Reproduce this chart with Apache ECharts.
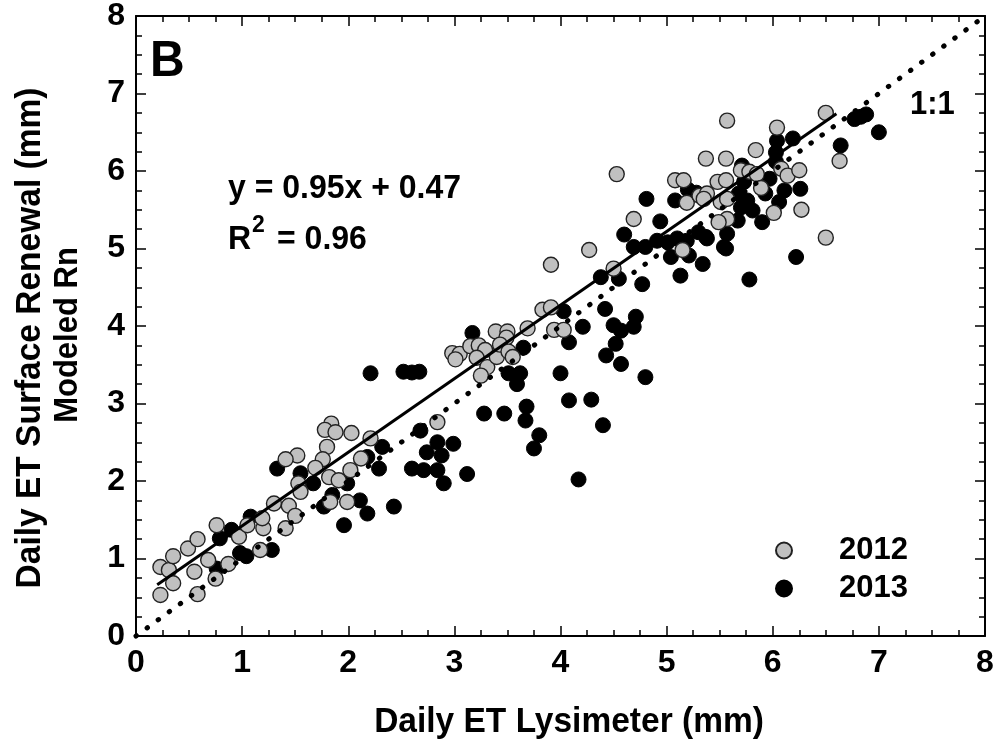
<!DOCTYPE html>
<html><head><meta charset="utf-8">
<script src="https://cdn.jsdelivr.net/npm/echarts@6/dist/echarts.min.js"></script>
<style>html,body{margin:0;padding:0;background:#fff}#chart{width:999px;height:746px}</style>
</head><body><div id="chart"></div>
<script>
// ---- data ----
const xTickValues = [0, 1, 2, 3, 4, 5, 6, 7, 8];
const yTickValues = [0, 1, 2, 3, 4, 5, 6, 7, 8];
const seriesNames = ['2012', '2013'];
// [Lysimeter ET, Surface Renewal ET] (mm)
const et2012 = [
  [0.23,0.89],[0.31,0.85],[0.23,0.53],[0.35,1.03],[0.35,0.68],[0.49,1.13],[0.58,1.25],[0.55,0.83],[0.58,0.54],
  [0.68,0.98],[0.75,0.74],[0.76,1.43],[0.87,0.93],[0.97,1.28],[1.05,1.43],[1.17,1.11],[1.20,1.39],[1.19,1.52],[1.30,1.71],
  [1.84,2.74],[1.78,2.66],[1.88,2.63],[2.03,2.62],[2.21,2.55],[1.80,2.44],[1.76,2.28],[1.52,2.33],[1.41,2.28],[1.69,2.17],
  [1.82,2.05],[1.91,2.01],[2.02,2.14],[2.12,2.29],[1.53,1.97],[1.55,1.86],[1.83,1.73],[1.99,1.73],[1.44,1.68],[1.50,1.55],[1.41,1.39],
  [2.84,2.76],[3.91,4.79],[3.83,4.21],[3.91,4.24],[3.94,3.95],[4.03,3.95],[3.69,3.97],[3.39,3.93],[3.50,3.93],[3.49,3.85],
  [2.98,3.65],[3.05,3.64],[3.01,3.57],[3.15,3.74],[3.23,3.75],[3.29,3.69],[3.21,3.59],[3.31,3.47],[3.25,3.36],[3.40,3.60],
  [3.43,3.76],[3.51,3.67],[3.55,3.60],
  [4.53,5.96],[5.08,5.88],[5.16,5.88],[5.37,6.16],[5.56,6.16],[5.48,5.86],[5.56,5.88],[5.19,5.59],[5.31,5.68],[5.38,5.71],
  [5.35,5.64],[5.51,5.60],[5.57,5.64],[5.57,5.38],[5.49,5.34],[4.69,5.38],[4.27,4.98],[5.15,4.98],[4.50,4.74],
  [5.57,6.65],[6.04,6.56],[6.50,6.75],[5.84,6.27],[5.70,6.01],[5.78,5.99],[5.85,5.96],[6.08,6.03],[6.14,5.94],[6.25,6.01],
  [5.89,5.78],[6.01,5.46],[6.27,5.50],[6.63,6.13],[6.50,5.14]
];
const et2013 = [
  [0.79,1.26],[0.90,1.37],[0.76,0.87],[0.98,1.07],[1.04,1.03],[1.08,1.54],[1.28,1.11],[1.33,2.16],
  [2.32,2.44],[2.68,2.65],[2.74,2.37],[2.84,2.50],[2.88,2.33],[2.60,2.16],[2.71,2.14],[2.84,2.14],[2.90,1.97],[2.18,2.31],
  [2.29,2.16],[1.55,2.10],[1.67,1.97],[1.99,1.97],[2.11,1.75],[2.18,1.58],[1.85,1.82],[1.77,1.67],[2.43,1.67],[1.96,1.43],[2.21,3.39],
  [2.52,3.41],[2.60,3.40],[2.67,3.41],[3.17,3.91],[4.03,4.19],[4.08,3.79],[3.65,3.72],[3.51,3.39],[3.62,3.39],[3.59,3.25],
  [4.00,3.39],[4.08,3.04],[3.28,2.87],[3.47,2.87],[3.68,2.96],[3.67,2.78],[3.80,2.59],[3.75,2.42],[2.99,2.48],[3.12,2.09],
  [4.17,2.02],[4.29,3.05],[4.40,2.72],[4.43,3.62],[4.57,3.51],[4.80,3.34],[4.52,3.77],[4.21,3.99],
  [4.42,4.22],[4.50,4.01],[4.57,3.94],[4.69,3.99],[4.71,4.12],
  [4.81,5.64],[5.08,5.62],[4.94,5.35],[4.60,5.18],[4.69,5.02],[4.80,5.02],[4.91,5.10],[5.01,5.08],[5.10,5.13],[5.19,5.10],
  [5.30,5.21],[5.38,5.13],[5.54,5.02],[5.04,4.89],[5.21,4.91],[5.34,4.80],[5.13,4.65],[4.77,4.54],[4.38,4.63],[4.55,4.61],
  [5.20,5.76],[5.28,5.72],
  [6.04,6.39],[6.19,6.42],[6.03,6.24],[6.64,6.33],[6.77,6.67],[6.83,6.70],[6.88,6.73],[7.00,6.50],[5.71,6.07],[5.73,5.86],
  [6.03,6.12],[5.97,5.90],[6.26,5.77],[6.11,5.75],[5.93,5.71],[6.06,5.60],[5.68,5.71],[5.76,5.62],[5.70,5.53],[5.81,5.49],
  [5.67,5.36],[5.90,5.34],[5.57,5.19],[5.37,5.15],[5.56,5.00],[6.22,4.89],[5.78,4.60]
];
// regression y = 0.95x + 0.47 (endpoints)
const fitLine = [[0.2, 0.66], [6.6, 6.74]];
const oneToOneLine = [[0, 0], [8, 8]];
const equationText = 'y = 0.95x + 0.47';
const r2Value = '0.96';

// ---- chart ----
const FONT = '"Liberation Sans", Arial, sans-serif';
const chart = echarts.init(document.getElementById('chart'));
function axisCommon(showLabel, ticks) {
  return {
    type: 'value', min: 0, max: 8, interval: 1,
    axisLine: { show: true, onZero: false, lineStyle: { color: '#000', width: 2 } },
    axisTick: { show: true, inside: true, length: 10, lineStyle: { color: '#000', width: 1.5 } },
    minorTick: { show: true, splitNumber: 4, length: 6, lineStyle: { color: '#000', width: 1.5 } },
    splitLine: { show: false }, minorSplitLine: { show: false },
    axisLabel: { show: showLabel, color: '#000', fontWeight: 'bold', fontSize: 32, fontFamily: FONT, margin: 11,
      formatter: v => (ticks.indexOf(v) >= 0 ? String(v) : '') }
  };
}
const xb = axisCommon(true, xTickValues); xb.position = 'bottom';
const xt = axisCommon(false, xTickValues); xt.position = 'top';
const yl = axisCommon(true, yTickValues); yl.position = 'left'; yl.axisLabel.margin = 11;
const yr = axisCommon(false, yTickValues); yr.position = 'right';

function txt(text, x, y, size, opts) {
  opts = opts || {};
  return {
    type: 'text', x: x, y: y, rotation: opts.rotation || 0,
    scaleX: opts.sx || 1, scaleY: opts.sy || 1,
    style: { text: text, fill: '#000', font: 'bold ' + size + 'px ' + FONT,
      textAlign: opts.align || 'left', textVerticalAlign: 'middle' }
  };
}

chart.setOption({
  animation: false,
  backgroundColor: '#fff',
  grid: { left: 136, right: 14, top: 15, bottom: 110, containLabel: false },
  xAxis: [xb, xt],
  yAxis: [yl, yr],
  legend: {
    orient: 'vertical', left: 770, top: 530, itemGap: 7, itemWidth: 16, itemHeight: 16,
    icon: 'circle', data: seriesNames,
    textStyle: { color: '#000', fontWeight: 'bold', fontSize: 31, fontFamily: FONT, padding: [0, 0, 0, 42] }
  },
  series: [
    { name: seriesNames[1], type: 'scatter', xAxisIndex: 0, yAxisIndex: 0, data: et2013, symbolSize: 15, z: 2,
      itemStyle: { color: '#000', borderColor: '#000', borderWidth: 1, opacity: 1 } },
    { name: seriesNames[0], type: 'scatter', xAxisIndex: 0, yAxisIndex: 0, data: et2012, symbolSize: 15, z: 3,
      itemStyle: { color: '#c0c0c0', borderColor: '#222', borderWidth: 1.4, opacity: 1 } },
    { type: 'line', data: fitLine, showSymbol: false, symbol: 'none', z: 5,
      lineStyle: { color: '#000', width: 3 } },
    { type: 'line', data: oneToOneLine, showSymbol: false, symbol: 'none', z: 5, clip: false,
      lineStyle: { color: '#000', width: 5, type: [0.5, 13.2], cap: 'round' } }
  ],
  graphic: [
    txt('B', 150, 62, 48, { sy: 1.05 }),
    txt('1:1', 910, 105, 31, { sy: 1.1 }),
    txt(equationText, 228, 189, 32, { sy: 1.05 }),
    txt('R', 228, 240, 32, { sy: 1.05 }),
    txt('2', 252, 226, 23),
    txt('= ' + r2Value, 277, 240, 32, { sy: 1.05 }),
    txt('Daily ET Lysimeter (mm)', 569, 722, 33.5, { align: 'center', sy: 1.05 }),
    txt('Daily ET Surface Renewal (mm)', 30, 338, 33.5, { align: 'center', rotation: Math.PI / 2, sy: 1.05 }),
    txt('Modeled Rn', 68, 335, 31, { align: 'center', rotation: Math.PI / 2, sy: 1.05 })
  ]
});
</script></body></html>
